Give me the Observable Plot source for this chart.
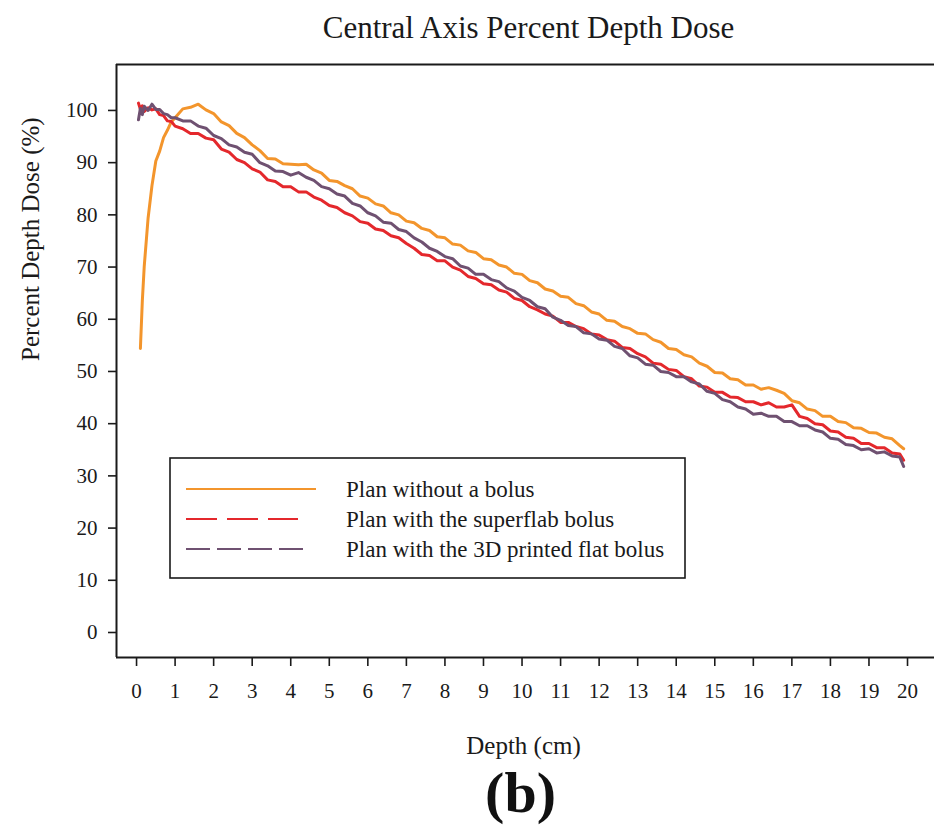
<!DOCTYPE html>
<html>
<head>
<meta charset="utf-8">
<script src="https://cdn.jsdelivr.net/npm/d3@7"></script>
<script src="https://cdn.jsdelivr.net/npm/@observablehq/plot@0.6"></script>
<style>
  html, body { margin: 0; padding: 0; background: #fff; }
  svg text { font-family: 'Liberation Serif', 'Times New Roman', 'DejaVu Serif', serif; }
</style>
</head>
<body>
<div id="chart"></div>
<script>
// ---- data ----
const depth = [
  0.05,0.1,0.15,0.2,0.3,0.4,0.5,0.6,0.7,0.8,0.9,1.0,
  1.2,1.4,1.6,1.8,
  2.0,2.2,2.4,2.6,2.8,
  3.0,3.2,3.4,3.6,3.8,
  4.0,4.2,4.4,4.6,4.8,
  5.0,5.2,5.4,5.6,5.8,
  6.0,6.2,6.4,6.6,6.8,
  7.0,7.2,7.4,7.6,7.8,
  8.0,8.2,8.4,8.6,8.8,
  9.0,9.2,9.4,9.6,9.8,
  10.0,10.2,10.4,10.6,10.8,
  11.0,11.2,11.4,11.6,11.8,
  12.0,12.2,12.4,12.6,12.8,
  13.0,13.2,13.4,13.6,13.8,
  14.0,14.2,14.4,14.6,14.8,
  15.0,15.2,15.4,15.6,15.8,
  16.0,16.2,16.4,16.6,16.8,
  17.0,17.2,17.4,17.6,17.8,
  18.0,18.2,18.4,18.6,18.8,
  19.0,19.2,19.4,19.6,19.8,
  19.9
];
const noBolus = [
  null,54.4,63.5,70.2,79.4,85.6,90.3,92.2,94.8,96.2,97.8,98.6,
  100.3,100.6,101.2,100.1,
  99.4,97.8,97.1,95.6,94.8,
  93.4,92.3,90.8,90.7,89.8,
  89.7,89.6,89.7,88.6,88.0,
  86.6,86.4,85.6,85.0,83.6,
  83.2,82.1,81.7,80.4,80.0,
  78.8,78.5,77.4,77.0,75.8,
  75.6,74.4,74.2,73.1,72.8,
  71.6,71.4,70.4,70.0,68.8,
  68.6,67.4,67.0,65.8,65.4,
  64.4,64.2,63.0,62.6,61.4,
  61.0,59.8,59.6,58.6,58.2,
  57.3,57.2,56.1,55.6,54.4,
  54.2,53.2,52.8,51.6,51.0,
  49.8,49.7,48.6,48.4,47.4,
  47.4,46.6,46.9,46.4,45.8,
  44.4,44.0,42.8,42.5,41.4,
  41.4,40.4,40.2,39.2,39.1,
  38.3,38.2,37.4,37.1,35.8,
  35.2
];
const superflab = [
  101.4,100.2,100.9,99.8,100.5,100.1,100.3,99.2,99.0,98.0,97.9,97.0,
  96.5,95.6,95.6,94.7,
  94.4,92.6,92.0,90.6,90.0,
  88.8,88.2,86.7,86.4,85.4,
  85.4,84.4,84.4,83.4,82.8,
  81.8,81.4,80.4,79.8,78.7,
  78.4,77.3,77.0,76.0,75.6,
  74.5,73.6,72.4,72.2,71.2,
  71.2,70.0,69.4,68.2,67.8,
  66.8,66.6,65.6,65.2,64.0,
  63.6,62.4,61.8,61.0,60.6,
  59.4,59.4,58.6,58.2,57.2,
  57.0,56.1,55.8,54.6,54.4,
  53.4,52.8,51.6,51.4,50.4,
  50.2,49.0,48.6,47.2,47.0,
  46.0,46.0,45.1,45.0,44.2,
  44.2,43.6,44.0,43.2,43.2,
  43.6,41.4,41.0,40.0,39.8,
  38.6,38.4,37.4,37.2,36.2,
  36.2,35.4,35.4,34.4,34.2,
  33.0
];
const printed3D = [
  98.2,100.4,99.2,100.8,100.0,101.2,100.2,100.2,99.4,99.2,98.6,98.6,
  98.0,98.0,97.0,96.6,
  95.2,94.6,93.4,93.0,92.0,
  91.6,90.0,89.4,88.4,88.3,
  87.6,88.1,87.2,86.6,85.4,
  85.0,84.0,83.6,82.2,81.7,
  80.4,79.8,78.6,78.4,77.2,
  76.8,75.6,74.8,73.6,73.0,
  72.0,71.6,70.2,69.8,68.6,
  68.6,67.6,67.2,66.0,65.4,
  64.2,63.6,62.4,62.0,60.4,
  59.8,58.8,58.6,57.4,57.2,
  56.2,56.0,54.8,54.4,53.0,
  52.6,51.4,51.2,50.0,49.8,
  49.0,49.0,48.0,47.6,46.2,
  45.8,44.6,44.2,43.2,42.8,
  41.8,42.0,41.4,41.4,40.4,
  40.4,39.6,39.6,38.8,38.4,
  37.2,37.0,36.0,35.8,35.0,
  35.2,34.4,34.6,33.8,33.6,
  31.8
];
const seriesNames = ["Plan without a bolus", "Plan with the superflab bolus", "Plan with the 3D printed flat bolus"];
const seriesColors = ["#f3952c", "#e4282c", "#6f5171"];
const xTicks = [0,1,2,3,4,5,6,7,8,9,10,11,12,13,14,15,16,17,18,19,20];
const yTicks = [0,10,20,30,40,50,60,70,80,90,100];
const xDomain = [-0.52, 20.7];
const yDomain = [-4.79, 108.8];

// ---- build ----
const toRows = vals => depth.map((d, i) => ({depth: d, value: vals[i]})).filter(r => r.value != null && r.value !== undefined);
const rowsO = toRows(noBolus), rowsR = toRows(superflab), rowsP = toRows(printed3D);

const serif = "Liberation Serif, Times New Roman, DejaVu Serif, serif";
const ink = "#1a1a1a";

const svg = Plot.plot({
  width: 934,
  height: 830,
  marginTop: 64,
  marginLeft: 116,
  marginRight: 0,
  marginBottom: 173,
  style: {fontFamily: serif, color: ink, background: "#fff", overflow: "visible"},
  x: {domain: xDomain},
  y: {domain: yDomain},
  marks: [
    Plot.axisX(xTicks, {tickSize: 9, tickPadding: 17, fontSize: 21, fontFamily: serif, label: null, stroke: ink, strokeWidth: 1.6, fill: ink}),
    Plot.axisY(yTicks, {tickSize: 8, tickPadding: 11, fontSize: 21, fontFamily: serif, label: null, stroke: ink, strokeWidth: 1.6, fill: ink}),
    Plot.line(rowsO, {x: "depth", y: "value", stroke: seriesColors[0], strokeWidth: 3}),
    Plot.line(rowsR, {x: "depth", y: "value", stroke: seriesColors[1], strokeWidth: 3}),
    Plot.line(rowsP, {x: "depth", y: "value", stroke: seriesColors[2], strokeWidth: 3}),
    Plot.ruleY([yDomain[1]], {stroke: ink, strokeWidth: 2}),
    Plot.ruleY([yDomain[0]], {stroke: ink, strokeWidth: 2}),
    Plot.ruleX([xDomain[0]], {stroke: ink, strokeWidth: 2}),
    Plot.text(["Central Axis Percent Depth Dose"], {text: d => d, frameAnchor: "top", dy: -36, dx: 3, fontSize: 31, fontFamily: serif, fill: ink, lineAnchor: "middle"}),
    Plot.text(["Depth (cm)"], {text: d => d, frameAnchor: "bottom", dy: 88, dx: -2, fontSize: 25, fontFamily: serif, fill: ink, lineAnchor: "middle"}),
    Plot.text(["Percent Depth Dose (%)"], {text: d => d, frameAnchor: "left", dx: -86, rotate: -90, fontSize: 25, fontFamily: serif, fill: ink, lineAnchor: "middle"}),
    Plot.text(["(b)"], {text: d => d, frameAnchor: "bottom", dy: 136, dx: -5, fontSize: 58, fontWeight: "bold", fontFamily: serif, fill: "#111", lineAnchor: "middle"})
  ]
});

// ---- legend (drawn into the same SVG) ----
const lg = d3.select(svg).append("g").attr("font-family", serif).attr("text-anchor", "start");
lg.append("rect").attr("x", 170).attr("y", 458).attr("width", 515).attr("height", 120)
  .attr("fill", "#fff").attr("stroke", ink).attr("stroke-width", 1.6);
const legendDash = [null, "31 10", "24 7"];
const legendLen = [130, 112, 120];
seriesNames.forEach((name, i) => {
  const y = 489 + i * 30;
  const ln = lg.append("line").attr("x1", 186).attr("x2", 186 + legendLen[i]).attr("y1", y).attr("y2", y)
    .attr("stroke", seriesColors[i]).attr("stroke-width", 2);
  if (legendDash[i]) ln.attr("stroke-dasharray", legendDash[i]);
  lg.append("text").attr("x", 346).attr("y", y).attr("dy", "0.35em").attr("text-anchor", "start")
    .attr("font-size", 23).attr("fill", ink).text(name);
});

document.getElementById("chart").appendChild(svg);
</script>
</body>
</html>
